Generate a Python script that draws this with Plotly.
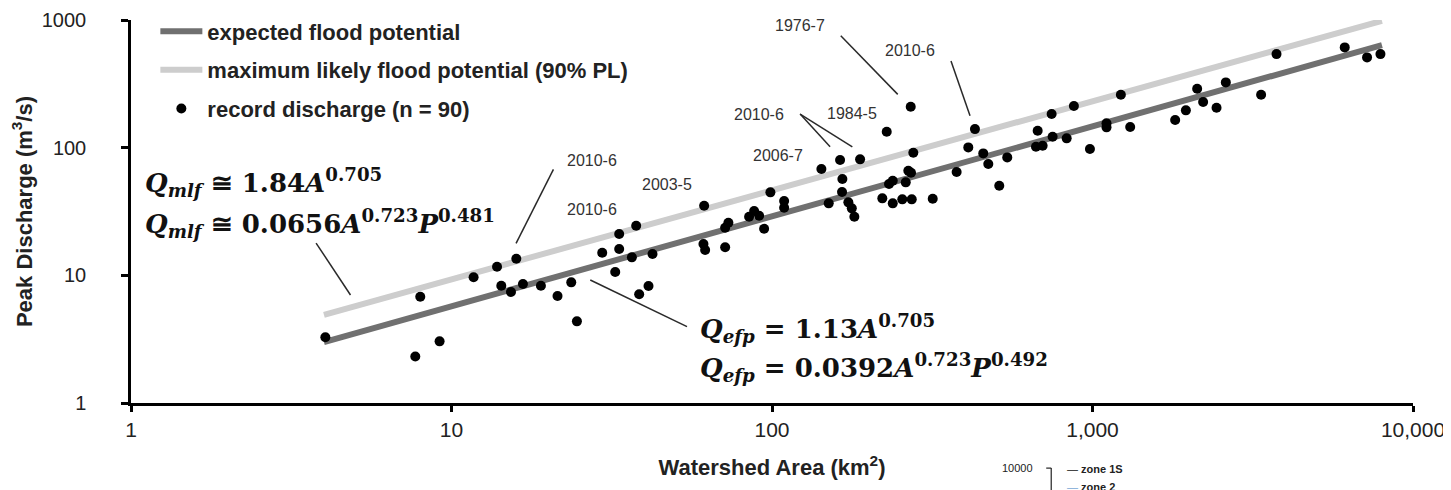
import numpy as np
import plotly.graph_objects as go

# ---------------- data ----------------
area_km2 = [4.04, 7.99, 7.71, 9.18, 11.72, 13.87, 15.93, 14.30, 15.33, 16.71,
            19.01, 21.42, 23.64, 24.62, 29.53, 33.36, 33.36, 37.69, 36.54, 32.42,
            42.38, 41.18, 38.51, 61.42, 61.11, 61.86, 71.42, 71.42, 73.11, 84.83,
            87.95, 91.16, 94.49, 98.86, 109.1, 109.1, 142.6, 150.3, 163.1, 165.8,
            165.4, 173.1, 177.4, 180.7, 188.3, 220.9, 231.8, 238.1, 238.1, 255.0,
            261.4, 266.3, 271.5, 272.9, 276.0, 317.3, 376.8, 456.2, 473.0, 511.8,
            542.0, 228.0, 270.9, 429.8, 409.7, 674.4, 666.2, 698.9, 745.6, 750.9,
            830.6, 874.9, 981.6, 1106, 1106, 1226, 1311, 1811, 1956, 2121,
            2214, 2438, 2606, 3358, 3751, 6124, 7189, 7915]
peak_q = [3.27, 6.80, 2.31, 3.04, 9.65, 11.68, 13.49, 8.29, 7.40, 8.55,
          8.29, 6.88, 8.81, 4.36, 15.03, 21.06, 16.07, 24.46, 13.83, 10.61,
          14.69, 8.25, 7.10, 35.08, 17.59, 15.78, 16.57, 23.59, 25.82, 28.77,
          31.88, 29.29, 23.17, 44.67, 38.18, 33.83, 68.0, 36.63, 79.97, 56.77,
          44.9, 37.3, 33.47, 28.77, 80.99, 40.09, 51.88, 55.06, 36.63, 39.37,
          53.5, 65.9, 63.6, 39.37, 91.2, 39.8, 64.4, 90.2, 74.4, 50.3,
          83.9, 133.2, 209.1, 139.8, 100.5, 135.6, 101.6, 103.5, 183.3, 121.7,
          118.3, 211.7, 97.5, 155.0, 144.2, 259.6, 145.0, 164.5, 196.0, 289.2,
          227.6, 205.4, 324.6, 259.6, 540.7, 610.2, 509.6, 540.7]

# fitted envelope lines (end points)
efp_area = [4, 8000]
efp_q = [3.0, 636]
mlf_area = [4, 8000]
mlf_q = [4.9, 985]

# event labels: (text, area, discharge)
label_text = ["2010-6", "2010-6", "2003-5", "2006-7", "2010-6", "1984-5", "1976-7", "2010-6"]
label_area = [27.4, 27.4, 47.0, 104.1, 91.2, 177.4, 122.4, 269.6]
label_q = [80.0, 33.0, 51.9, 86.7, 181.6, 184.9, 904, 576]

# leader lines: segments (area0, q0, area1, q1)
leader_area0 = [3.78, 27.1, 20.8, 122.4, 122.4, 163.9, 361.8]
leader_q0 = [17.9, 9.19, 67.6, 183.3, 183.3, 752, 476.7]
leader_area1 = [4.84, 54.3, 15.9, 151.8, 178.1, 246.8, 414.8]
leader_q1 = [7.01, 3.96, 17.8, 101.6, 101.6, 261.5, 177.7]

x_tickvals = [1, 10, 100, 1000, 10000]
x_ticktext = ["1", "10", "100", "1,000", "10,000"]
y_tickvals = [1, 10, 100, 1000]
y_ticktext = ["1", "10", "100", "1000"]

SANS = "Liberation Sans, Arial, sans-serif"
SERIF = "DejaVu Serif, serif"

fig = go.Figure()

fig.add_trace(go.Scatter(x=efp_area, y=efp_q, mode="lines",
                         line=dict(color="#707070", width=6),
                         name="<b>expected flood potential</b>", legendgroup="a"))
fig.add_trace(go.Scatter(x=mlf_area, y=mlf_q, mode="lines",
                         line=dict(color="#cdcdcd", width=6),
                         name="<b>maximum likely flood potential (90% PL)</b>", legendgroup="b"))

lx, ly = [], []
for a0, q0, a1, q1 in zip(leader_area0, leader_q0, leader_area1, leader_q1):
    lx += [a0, a1, None]
    ly += [q0, q1, None]
fig.add_trace(go.Scatter(x=lx, y=ly, mode="lines", line=dict(color="#2a2a2a", width=1.5),
                         showlegend=False, hoverinfo="skip"))

fig.add_trace(go.Scatter(x=area_km2, y=peak_q, mode="markers",
                         marker=dict(color="black", size=10),
                         name="<b>record discharge (n = 90)</b>", legendgroup="c",
                         cliponaxis=False))

annotations = []
for t, a, q in zip(label_text, label_area, label_q):
    annotations.append(dict(x=np.log10(a), y=np.log10(q), xref="x", yref="y", text=t,
                            showarrow=False, font=dict(family=SANS, size=16, color="#333333")))

eq_font = dict(family=SERIF, size=26, color="#111111")
eqs = [
    ("<b><i>Q</i><sub><i>mlf</i></sub> ≅ 1.84<i>A</i><sup>0.705</sup></b>", 1.09, 53.5),
    ("<b><i>Q</i><sub><i>mlf</i></sub> ≅ 0.0656<i>A</i><sup>0.723</sup><i>P</i><sup>0.481</sup></b>", 1.09, 25.5),
    ("<b><i>Q</i><sub><i>efp</i></sub> = 1.13<i>A</i><sup>0.705</sup></b>", 58.9, 3.85),
    ("<b><i>Q</i><sub><i>efp</i></sub> = 0.0392<i>A</i><sup>0.723</sup><i>P</i><sup>0.492</sup></b>", 58.9, 1.90),
]
for t, a, q in eqs:
    annotations.append(dict(x=np.log10(a), y=np.log10(q), xref="x", yref="y", text=t,
                            showarrow=False, xanchor="left", yanchor="middle", font=eq_font))

# fragment of neighbouring figure at bottom right
annotations += [
    dict(x=0.7053, y=-0.170, xref="paper", yref="paper", text="10000", showarrow=False,
         xanchor="right", yanchor="middle", font=dict(family=SANS, size=11, color="#222")),
    dict(x=0.7287, y=-0.172, xref="paper", yref="paper",
         text="<span style='color:#111'>—</span> <b>zone 1S</b>", showarrow=False,
         xanchor="left", yanchor="middle", font=dict(family=SANS, size=11, color="#222")),
    dict(x=0.7287, y=-0.219, xref="paper", yref="paper",
         text="<span style='color:#7aa6d6'>—</span> <b>zone 2</b>", showarrow=False,
         xanchor="left", yanchor="middle", font=dict(family=SANS, size=11, color="#222")),
]
shapes = [
    dict(type="line", xref="paper", yref="paper", x0=0.7178, x1=0.7178, y0=-0.170, y1=-0.26,
         line=dict(color="#222", width=1.2)),
    dict(type="line", xref="paper", yref="paper", x0=0.7139, x1=0.7178, y0=-0.170, y1=-0.170,
         line=dict(color="#222", width=1.2)),
]

# page body has an 8px default margin: figure is offset by (8, 8)
fig.update_layout(
    width=1443, height=482,
    margin=dict(l=122.5, r=38, t=12, b=87, autoexpand=False),
    plot_bgcolor="white", paper_bgcolor="white",
    showlegend=True,
    legend=dict(x=0.019, y=1.025, xanchor="left", yanchor="top",
                font=dict(family=SANS, size=22, color="#222"),
                tracegroupgap=7, itemwidth=42, bgcolor="rgba(0,0,0,0)"),
    annotations=annotations, shapes=shapes,
)
fig.update_xaxes(type="log", range=[0, 4], showline=True, linecolor="black", linewidth=2.5,
                 ticks="outside", ticklen=6, tickwidth=2.5, tickcolor="black", automargin=False,
                 tickvals=x_tickvals, ticktext=x_ticktext, showgrid=False, zeroline=False,
                 tickfont=dict(family=SANS, size=21, color="#222"), ticklabelstandoff=0,
                 title=dict(text="<b>Watershed Area (km<sup>2</sup>)</b>", standoff=20,
                            font=dict(family=SANS, size=22, color="#222")))
fig.update_yaxes(type="log", range=[0, 3], showline=True, linecolor="black", linewidth=2.5,
                 ticks="outside", ticklen=7, tickwidth=2.5, tickcolor="black", automargin=False,
                 tickvals=y_tickvals, ticktext=y_ticktext, showgrid=False, zeroline=False,
                 tickfont=dict(family=SANS, size=20, color="#222"), ticklabelstandoff=31,
                 title=dict(text="<b>Peak Discharge (m<sup>3</sup>/s)</b>", standoff=4,
                            font=dict(family=SANS, size=22, color="#222")))

fig.write_html("out.html")
